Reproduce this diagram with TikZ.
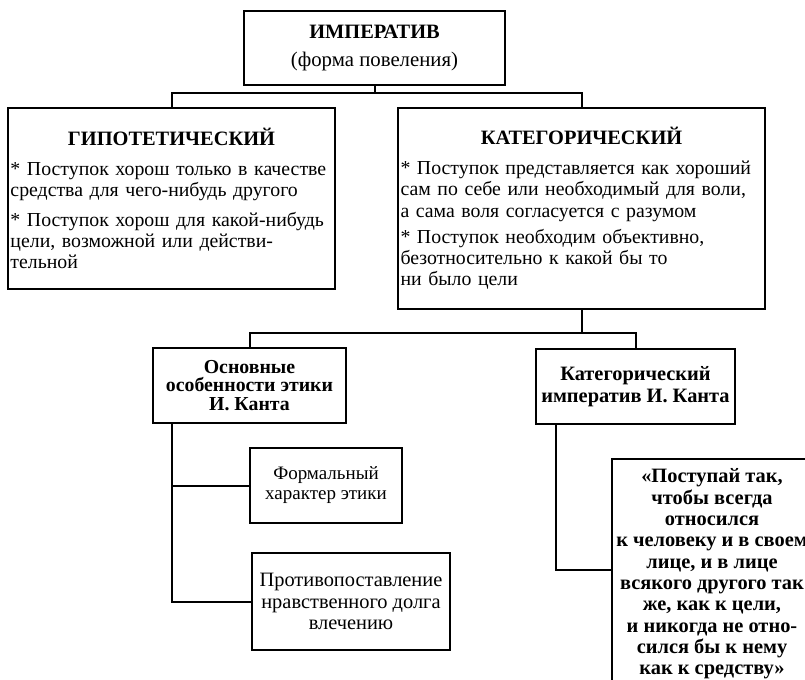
\documentclass[tikz,border=0pt]{standalone}
\usepackage{fontspec}
\setmainfont{Liberation Serif}
\usetikzlibrary{calc}

\begin{document}
\begin{tikzpicture}[x=0.5pt, y=-0.5pt,
    box/.style={draw=borderColour, line width=1pt, inner sep=1pt,
        font=\fontsize{10.2}{10.6}\selectfont},
    textbox/.style={box, align=left, text width=#1,
        font=\fontsize{9.9}{10.6}\selectfont},
    link/.style={draw=borderColour, line width=1pt}]
    % Define colours
    \definecolor{borderColour}{HTML}{000000}

    % Fix the page size
    \useasboundingbox (0,0) rectangle (805,680);
    \clip (0,0) rectangle (805,680);

    % Top box
    \node[box, align=center, minimum width=130.5pt, minimum height=37pt] (imp) at (374.5,48)
        {\textbf{ИМПЕРАТИВ}\\[3.6pt]{\fontsize{10.4}{10.6}\selectfont(форма повеления)}};

    % Two kinds of imperative
    \node[textbox=161pt, minimum width=163.5pt, minimum height=90.5pt] (hyp) at (171.5,198.5)
        {\hfill{\fontsize{10.2}{10.6}\selectfont\textbf{ГИПОТЕТИЧЕСКИЙ}}\hfill\null\\[4.4pt]
         * Поступок хорош только в качестве\\
         средства для чего-нибудь другого\\[4.4pt]
         * Поступок хорош для какой-нибудь\\
         цели, возможной или действи-\\
         тельной};
    \node[textbox=181pt, minimum width=183.5pt, minimum height=100.5pt] (cat) at (581.5,208.5)
        {\hfill{\fontsize{10.2}{10.6}\selectfont\textbf{КАТЕГОРИЧЕСКИЙ}}\hfill\null\\[4.4pt]
         * Поступок представляется как хороший\\
         сам по себе или необходимый для воли,\\
         а сама воля согласуется с разумом\\[2.6pt]
         * Поступок необходим объективно,\\
         безотносительно к какой бы то\\
         ни было цели};

    % Kant boxes
    \node[box, align=center, minimum width=96.5pt, minimum height=37.5pt,
        font=\bfseries\fontsize{9.9}{9.2}\selectfont] (base) at (249.5,385.5)
        {Основные\\особенности этики\\И. Канта};
    \node[box, align=center, minimum width=99.5pt, minimum height=37.5pt,
        font=\bfseries\fontsize{10.2}{10.8}\selectfont] (kant) at (635.5,386.5)
        {Категорический\\императив И. Канта};

    % Features of the ethics
    \node[box, align=center, minimum width=76pt, minimum height=37.5pt,
        font=\fontsize{9.5}{10}\selectfont] (form) at (326,485.5)
        {Формальный\\характер этики};
    \node[box, align=center, minimum width=99pt, minimum height=48.5pt] (contr) at (351,601.5)
        {Противопоставление\\нравственного долга\\влечению};

    % The formula
    \node[box, align=center, minimum width=100pt, minimum height=115pt,
        font=\bfseries\fontsize{10.2}{10.65}\selectfont] (quote) at (712,574)
        {«Поступай так,\\чтобы всегда\\относился\\к человеку и в своем\\лице, и в лице\\
         всякого другого так\\же, как к цели,\\и никогда не отно-\\сился бы к нему\\как к средству»};

    % Draw connectors
    \draw[link] (imp.south) -- ++(0,7) coordinate (topBus);
    \draw[link] (hyp.north) |- (topBus) -| (cat.north);
    \draw[link] (cat.south) -- ++(0,23) coordinate (midBus);
    \draw[link] (base.north) |- (midBus) -| (kant.north);

    \coordinate (baseStem) at ($(base.south west)+(20,0)$);
    \draw[link] (baseStem) |- (form.west);
    \draw[link] (baseStem) |- (contr.west);
    \coordinate (kantStem) at ($(kant.south west)+(21,0)$);
    \draw[link] (kantStem) |- ($(quote.west)+(0,-4)$);

\end{tikzpicture}
\end{document}
